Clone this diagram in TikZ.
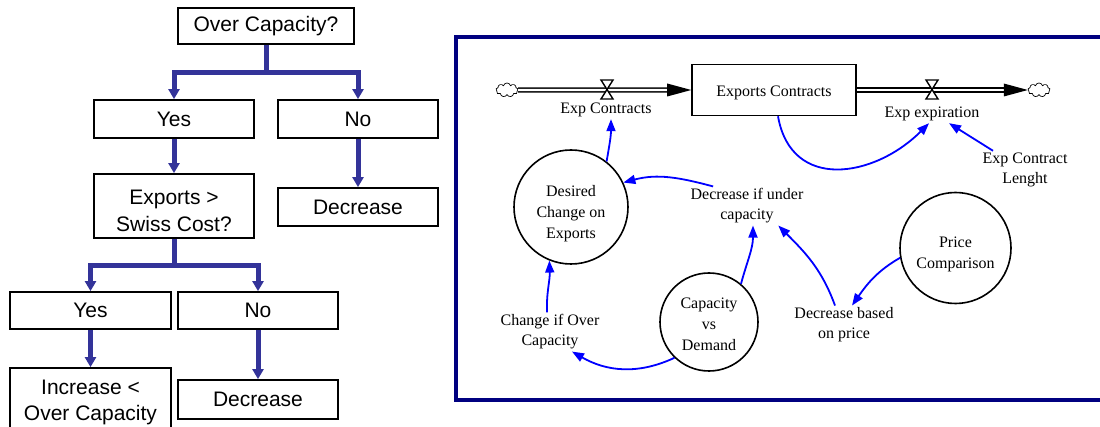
\documentclass[tikz,border=0pt]{standalone}
\usepackage{fontspec}
\setmainfont{Liberation Serif}
\newfontfamily\arialfont{Liberation Sans}
\usetikzlibrary{arrows.meta,shapes.symbols,calc}
\definecolor{flowblue}{RGB}{51,51,153}
\definecolor{framenavy}{RGB}{0,0,128}
\newcommand{\upstrut}[1]{\rule{0pt}{#1}}
\begin{document}
\begin{tikzpicture}[x=1pt,y=1pt,
  box/.style={draw=black,line width=1.8pt,inner sep=0pt,minimum width=160pt,
    align=center,font=\arialfont\fontsize{21}{26}\selectfont},
  tree/.style={draw=flowblue,line width=5pt,line join=miter,-{Triangle[length=10pt,width=11pt]}},
  lbl/.style={inner sep=2pt,align=center,font=\fontsize{16}{20}\selectfont},
  var/.style={circle,draw=black,line width=1.6pt,inner sep=0pt,align=center,
    font=\fontsize{16}{21}\selectfont},
  link/.style={draw=blue,line width=1.8pt,-{Triangle[length=12pt,width=9pt]}},
  stock/.style={draw=black,line width=1.6pt,inner sep=0pt,minimum width=164pt,minimum height=51pt,
    font=\fontsize{16}{20}\selectfont},
  pipe/.style={draw=black,line width=1.6pt,double=white,double distance=2.2pt},
  valve/.style={draw=black,fill=white,line width=1.4pt,line join=miter},
  sky/.style={cloud,cloud puffs=9,aspect=1.6,draw=black,line width=0.7pt,fill=white,
    minimum width=22pt,minimum height=14pt,inner sep=0pt}
]
\useasboundingbox (0,0) rectangle (1100,-427);

% ---------- left decision tree ----------
\node[box,minimum width=176pt,minimum height=36pt] (oc) at (266,-26) {Over Capacity?};
\node[box,minimum height=38pt] (y1) at (174,-119) {Yes};
\node[box,minimum height=38pt] (n1) at (358,-119) {No};
\node[box,minimum height=64pt,font=\arialfont\fontsize{21}{27}\selectfont] (esc) at (174,-206) {\upstrut{25pt}Exports >\\Swiss Cost?};
\node[box,minimum height=38pt] (d1) at (358,-207) {Decrease};
\node[box,minimum width=161pt,minimum height=37pt] (y2) at (90.5,-310.5) {Yes};
\node[box,minimum height=37pt] (n2) at (258,-310.5) {No};
\node[box,minimum width=161pt,minimum height=68pt] (inc) at (90.5,-402) {Increase <\\Over Capacity};
\node[box,minimum height=39pt] (d2) at (258,-399.5) {Decrease};

\draw[tree] (oc.south) -- ++(0,-28) -| (y1.north);
\draw[tree] (oc.south) -- ++(0,-28) -| (n1.north);
\draw[tree] (y1.south) -- (esc.north);
\draw[tree] (n1.south) -- (d1.north);
\draw[tree] (esc.south) -- ++(0,-27) -| (y2.north);
\draw[tree] (esc.south) -- ++(0,-27) -| (n2.north);
\draw[tree] (y2.south) -- (inc.north);
\draw[tree] (n2.south) -- (d2.north);

% ---------- right stock and flow diagram ----------
\draw[framenavy,line width=3.5pt,line join=miter] (1110,-37) -- (456,-37) -- (456,-400) -- (1110,-400);

\node[stock] (ec) at (774,-90) {\upstrut{17pt}Exports Contracts};
\node[sky] (c1) at (507,-90) {};
\node[sky] (c2) at (1039,-90) {};

\draw[pipe] (c1.east) -- ([xshift=-22pt]ec.west);
\fill[black] (ec.west) -- ++(-24,6.5) -- ++(0,-13) -- cycle;
\draw[pipe] (ec.east) -- ([xshift=-22pt]c2.west);
\fill[black] (c2.west) -- ++(-24,6.5) -- ++(0,-13) -- cycle;

\coordinate (v1) at (607,-90);
\coordinate (v2) at (932,-90);
\draw[valve] ($(v1)+(-6,10)$) -- ++(12,0) -- ++(-12,-19) -- ++(12,0) -- cycle;
\draw[valve] ($(v2)+(-6,10)$) -- ++(12,0) -- ++(-12,-19) -- ++(12,0) -- cycle;

\node[lbl] (ecr) at (606,-110) {Exp Contracts};
\node[lbl] (eex) at (932,-114) {Exp expiration};
\node[lbl] (ecl) at (1025,-170) {Exp Contract\\Lenght};
\node[var,minimum size=114pt] (dce) at (571,-207) {\upstrut{24pt}Desired\\Change on\\Exports};
\node[lbl] (diu) at (747,-206) {Decrease if under\\capacity};
\node[var,minimum size=98pt] (cvd) at (709,-322) {\upstrut{15pt}Capacity\\vs\\Demand};
\node[lbl] (coc) at (550,-332) {Change if Over\\Capacity};
\node[lbl] (dbp) at (844,-325) {Decrease based\\on price};
\node[var,minimum size=111pt] (pc) at (955.5,-248) {\upstrut{23pt}Price\\Comparison};

\draw[link] (dce.52) to[out=80,in=-90] ([xshift=5pt]ecr.south);
\draw[link] (diu.150) to[out=165,in=15] (dce.25);
\draw[link] (cvd.50) to[out=75,in=-90] ([xshift=6pt]diu.south);
\draw[link] ([xshift=-9pt]dbp.north) to[out=110,in=-45] (diu.-32);
\draw[link] (pc.190) to[out=-150,in=55] ([xshift=8pt]dbp.north);
\draw[link] ([xshift=-3pt]coc.north) to[out=92,in=-88] (dce.-112);
\draw[link] (cvd.-134) to[out=-155,in=-30] ([xshift=22pt]coc.south);
\draw[link] ([xshift=4pt]ec.south) to[out=-80,in=-135,looseness=1.3] ([xshift=-3pt]eex.south);
\draw[link] ([xshift=-32pt]ecl.north) -- ([xshift=17pt]eex.south);
\end{tikzpicture}
\end{document}
